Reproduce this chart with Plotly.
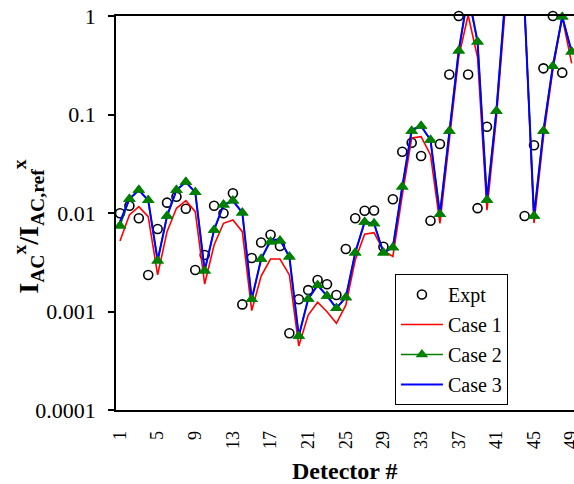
import plotly.graph_objects as go

detectors = list(range(1, 50))

expt = [0.00993, 0.01186, 0.00884, 0.00235, 0.00689, 0.01273, 0.01463, 0.01106, 0.00264, 0.00375,
        0.01186, 0.00993, 0.01585, 0.00118, 0.00349, 0.00502, 0.00602, 0.00462, 0.000601, 0.00133,
        0.00165, 0.00209, 0.00189, 0.00147, 0.00431, 0.00884, 0.01055, 0.0106, 0.00455, 0.01377,
        0.0419, 0.0517, 0.0379, 0.00835, 0.0502, 0.255, 1.0, 0.255, 0.0112, 0.0752,
        None, None, None, 0.00933, 0.0487, 0.294, 1.0, 0.266, None]

case1 = [0.00520, 0.00955, 0.01159, 0.00917, 0.00235, 0.00646, 0.01117, 0.01333, 0.01031, 0.00190,
         0.00473, 0.00786, 0.00849, 0.00646, 0.00102, 0.00229, 0.00341, 0.00341, 0.00235, 0.000447,
         0.000921, 0.00124, 0.000995, 0.000759, 0.00116, 0.00333, 0.00608, 0.00631, 0.00414, 0.00362,
         0.0152, 0.0577, 0.0595, 0.0388, 0.00786, 0.0551, 0.386, 1.02, 0.38, 0.0107,
         0.092, 1.4, 4.5, 1.2, 0.0079, 0.059, 0.283, 0.975, 0.331]

case2 = [0.00743, 0.0139, 0.0171, 0.01345, 0.00328, 0.00933, 0.0171, 0.0206, 0.0162, 0.00260,
         0.00672, 0.0121, 0.0133, 0.01007, 0.00133, 0.00341, 0.00512, 0.00524, 0.00360, 0.000564,
         0.00134, 0.00185, 0.00144, 0.00108, 0.00139, 0.00395, 0.00811, 0.00782, 0.00395, 0.00447,
         0.0185, 0.0680, 0.0764, 0.0551, 0.00970, 0.0680, 0.444, 1.6, 0.548, 0.01355,
         0.1086, 1.7, 5.0, 1.15, 0.00933, 0.0680, 0.309, 0.984, 0.434]

case3 = [0.00816, 0.0139, 0.0171, 0.01345, 0.00328, 0.00933, 0.0171, 0.0206, 0.0162, 0.00260,
         0.00672, 0.0121, 0.0133, 0.01007, 0.00133, 0.00341, 0.00530, 0.00540, 0.00360, 0.000564,
         0.00134, 0.00185, 0.00144, 0.00108, 0.00139, 0.00395, 0.00811, 0.00782, 0.00395, 0.00447,
         0.0185, 0.0700, 0.0764, 0.0551, 0.00970, 0.0680, 0.444, 1.7, 0.548, 0.01355,
         0.1086, 1.8, 5.0, 1.2, 0.00933, 0.0680, 0.309, 0.984, 0.434]

x_tickvals = list(range(1, 50, 4))
x_ticktext = [str(v) for v in x_tickvals]
y_tickvals = [0.0001, 0.001, 0.01, 0.1, 1]
y_ticktext = ["0.0001", "0.001", "0.01", "0.1", "1"]

SERIF = "Liberation Serif, Times New Roman, serif"

fig = go.Figure()
fig.add_trace(go.Scatter(
    x=detectors, y=expt, mode="markers", name="Expt", legendgroup="a",
    marker=dict(symbol="circle-open", size=9, color="black", line=dict(width=1.6, color="black")),
    cliponaxis=False))
fig.add_trace(go.Scatter(
    x=detectors, y=case1, mode="lines", name="Case 1", legendgroup="b",
    line=dict(color="#FF0000", width=1.6)))
fig.add_trace(go.Scatter(
    x=detectors, y=case2, mode="lines+markers", name="Case 2", legendgroup="c",
    line=dict(color="#008000", width=1.6),
    marker=dict(symbol="triangle-up", size=11, color="#008000")))
fig.add_trace(go.Scatter(
    x=detectors, y=case3, mode="lines", name="Case 3", legendgroup="d",
    line=dict(color="#0000FF", width=2)))
# triangles on top, drawn unclipped where inside the range
fig.add_trace(go.Scatter(
    x=detectors, y=[v if v <= 1 else None for v in case2], mode="markers",
    showlegend=False, hoverinfo="skip",
    marker=dict(symbol="triangle-up", size=11, color="#008000"),
    cliponaxis=False))

fig.update_layout(
    width=574, height=484,
    margin=dict(l=116, r=0, t=16, b=74, autoexpand=False),
    paper_bgcolor="white", plot_bgcolor="white",
    font=dict(family=SERIF, color="black"),
    showlegend=True,
    legend=dict(x=0.609, y=0.345, xanchor="left", yanchor="top",
                bordercolor="black", borderwidth=1, bgcolor="white",
                font=dict(family=SERIF, size=20, color="black"),
                tracegroupgap=1, itemwidth=42),
    xaxis=dict(range=[0.575, 49.25], tickmode="array", tickvals=x_tickvals, ticktext=x_ticktext,
               tickangle=-90, ticks="", showgrid=False, zeroline=False, automargin=False,
               showline=True, linecolor="black", linewidth=1.5, mirror=True,
               ticklabeloverflow="allow",
               tickfont=dict(family=SERIF, size=18, color="black"), ticklabelstandoff=12),
    yaxis=dict(type="log", range=[-4, 0], tickmode="array", tickvals=y_tickvals, ticktext=y_ticktext,
               ticks="outside", ticklen=6, tickwidth=1.5, tickcolor="black", automargin=False,
               showgrid=False, zeroline=False, ticklabeloverflow="allow",
               showline=True, linecolor="black", linewidth=1.5,
               tickfont=dict(family=SERIF, size=22, color="black"), ticklabelstandoff=8),
    annotations=[
        dict(text="<b>I<sub>AC</sub><sup>x</sup>/I<sub>AC,ref</sub><sup>x</sup></b>",
             xref="paper", yref="paper", x=-0.19, y=0.465, xanchor="center", yanchor="middle",
             textangle=-90, showarrow=False, font=dict(family=SERIF, size=28, color="black")),
        dict(text="<b>Detector #</b>", xref="paper", yref="paper", x=0.5, y=-0.155,
             xanchor="center", yanchor="middle", showarrow=False,
             font=dict(family=SERIF, size=24, color="black")),
    ],
)

fig.write_html("out.html", config={"displayModeBar": False},
               post_script="document.body.style.margin='0';document.body.style.overflow='hidden';")
